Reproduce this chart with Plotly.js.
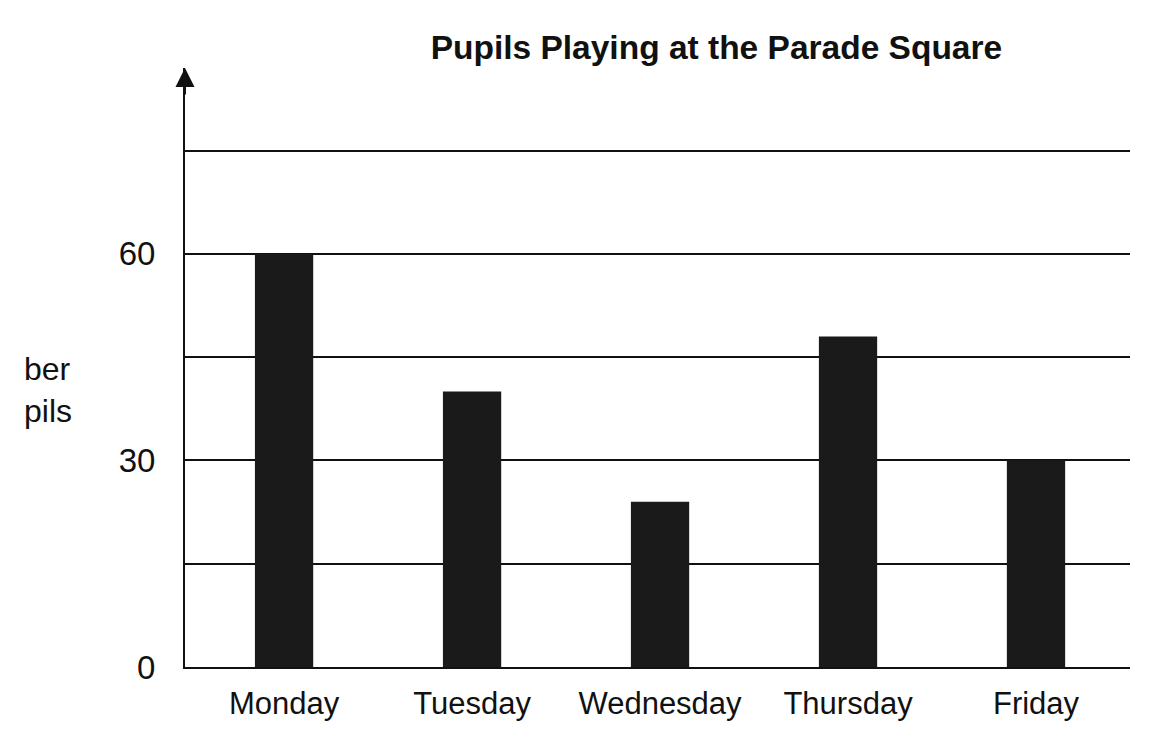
<!DOCTYPE html>
<html>
<head>
<meta charset="utf-8">
<script src="https://cdn.plot.ly/plotly-3.0.1.min.js"></script>
<style>html,body{margin:0;padding:0;background:#fff;}#chart{width:1163px;height:751px;}</style>
</head>
<body>
<div id="chart"></div>
<script>
var days = ["Monday", "Tuesday", "Wednesday", "Thursday", "Friday"];
var pupils = [60, 40, 24, 48, 30];
var yTickVals = [0, 15, 30, 45, 60, 75];
var yTickText = ["0", "", "30", "", "60", ""];

var trace = {
  type: "bar",
  x: days,
  y: pupils,
  width: 0.31,
  marker: {color: "#1a1a1a", line: {width: 0}},
  hoverinfo: "x+y"
};

var layout = {
  width: 1163,
  height: 751,
  margin: {l: 185, r: 33, t: 68, b: 84},
  paper_bgcolor: "#ffffff",
  plot_bgcolor: "#ffffff",
  font: {family: "Liberation Sans, Arial, sans-serif", color: "#111", size: 31},
  showlegend: false,
  title: {
    text: "<b>Pupils Playing at the Parade Square</b>",
    font: {size: 33.5, color: "#111"},
    x: 0.616, xanchor: "center",
    y: 0.937, yanchor: "middle"
  },
  xaxis: {
    type: "category",
    range: [-0.527, 4.5],
    showgrid: false,
    showline: true,
    linecolor: "#111",
    linewidth: 2,
    ticks: "",
    tickfont: {size: 31},
    ticklabelstandoff: 8,
    zeroline: false
  },
  yaxis: {
    range: [0, 87],
    tickvals: yTickVals,
    ticktext: yTickText,
    showgrid: true,
    gridcolor: "#111",
    gridwidth: 2,
    showline: true,
    linecolor: "#111",
    linewidth: 2,
    ticks: "",
    tickfont: {size: 33},
    ticklabelstandoff: 21,
    zeroline: false
  },
  annotations: [
    {
      xref: "paper", yref: "paper", x: 0, y: 1,
      showarrow: true, ax: 0, ay: 28, text: "",
      arrowhead: 2, arrowsize: 1.9, arrowwidth: 2, arrowcolor: "#111"
    },
    {
      xref: "paper", yref: "paper", x: -0.172, y: 0.463,
      xanchor: "left", yanchor: "middle", align: "left",
      showarrow: false,
      text: "ber<br>pils",
      font: {size: 32, color: "#111"}
    }
  ]
};

Plotly.newPlot("chart", [trace], layout, {displayModeBar: false, staticPlot: true});
</script>
</body>
</html>
